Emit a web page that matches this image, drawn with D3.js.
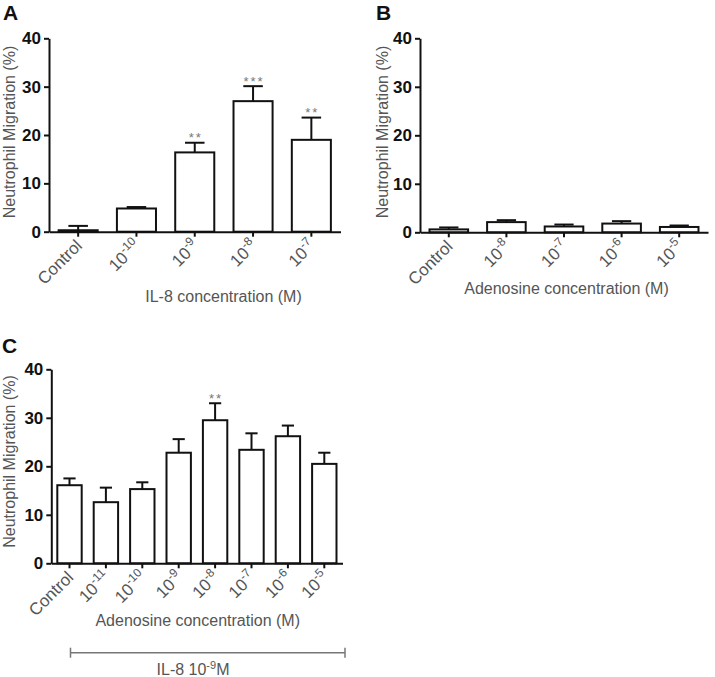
<!DOCTYPE html>
<html>
<head>
<meta charset="utf-8">
<script src="https://cdn.jsdelivr.net/npm/d3@7"></script>
<style>
  html, body { margin: 0; padding: 0; background: #fff; }
  svg { display: block; font-family: "Liberation Sans", Arial, Helvetica, sans-serif; }
</style>
</head>
<body>
<svg id="chart" width="715" height="677"></svg>
<script>
// ---------- DATA ----------
const yTicks = [0, 10, 20, 30, 40];

// Panel A: IL-8
const catsA = ["Control", "-10", "-9", "-8", "-7"];
const meanA = [0.3, 4.8, 16.4, 27.0, 19.0];
const semA  = [0.9, 0.3, 2.0, 3.1, 4.6];
const sigA  = ["", "", "**", "***", "**"];

// Panel B: Adenosine alone
const catsB = ["Control", "-8", "-7", "-6", "-5"];
const meanB = [0.6, 2.1, 1.2, 1.8, 1.1];
const semB  = [0.4, 0.4, 0.4, 0.5, 0.3];
const sigB  = ["", "", "", "", ""];

// Panel C: Adenosine + IL-8 1e-9 M
const catsC = ["Control", "-11", "-10", "-9", "-8", "-7", "-6", "-5"];
const meanC = [16.1, 12.6, 15.3, 22.8, 29.5, 23.4, 26.2, 20.5];
const semC  = [1.4, 3.0, 1.4, 2.8, 3.5, 3.4, 2.2, 2.3];
const sigC  = ["", "", "", "", "**", "", "", ""];

// ---------- DRAWING ----------
const svg = d3.select("#chart");
const grey = "#555";

function panel(opt) {
  const { cats, mean, sem, sig, x0, x1, y0, y1, letter, letterPos, title, titlePos, ylabPos } = opt;
  const g = svg.append("g");
  const x = d3.scaleBand().domain(cats).range([x0, x1]).paddingInner(0.33).paddingOuter(0.165);
  const y = d3.scaleLinear().domain([0, 40]).range([y0, y1]);

  const data = cats.map((c, i) => ({ c, m: mean[i], s: sem[i], sig: sig[i] }));
  g.selectAll("rect.bar").data(data).join("rect")
    .attr("class", "bar")
    .attr("x", d => x(d.c))
    .attr("y", d => y(d.m))
    .attr("width", x.bandwidth())
    .attr("height", d => y(0) - y(d.m))
    .attr("fill", "#fff").attr("stroke", "#111").attr("stroke-width", 2);

  const cw = x.bandwidth() / 2;
  g.selectAll("line.err").data(data).join("line")
    .attr("x1", d => x(d.c) + x.bandwidth() / 2).attr("x2", d => x(d.c) + x.bandwidth() / 2)
    .attr("y1", d => y(d.m)).attr("y2", d => y(d.m + d.s))
    .attr("stroke", "#111").attr("stroke-width", 2);
  g.selectAll("line.cap").data(data).join("line")
    .attr("x1", d => x(d.c) + x.bandwidth() / 2 - cw / 2).attr("x2", d => x(d.c) + x.bandwidth() / 2 + cw / 2)
    .attr("y1", d => y(d.m + d.s)).attr("y2", d => y(d.m + d.s))
    .attr("stroke", "#111").attr("stroke-width", 2);

  g.selectAll("text.sig").data(data.filter(d => d.sig)).join("text")
    .attr("x", d => x(d.c) + x.bandwidth() / 2 + 1)
    .attr("y", d => y(d.m + d.s) - 0.5)
    .attr("text-anchor", "middle")
    .attr("font-size", 13).attr("letter-spacing", 2)
    .attr("fill", "#777")
    .text(d => d.sig);

  const ya = g.append("g").attr("transform", `translate(${x0},0)`)
    .call(d3.axisLeft(y).tickValues(yTicks).tickSize(5).tickSizeOuter(0).tickPadding(3));
  ya.select(".domain").attr("stroke", "#111").attr("stroke-width", 2);
  ya.selectAll(".tick line").attr("stroke", "#111").attr("stroke-width", 2);
  ya.selectAll(".tick text").attr("font-size", 17).attr("font-weight", "bold")
    .attr("fill", "#111").attr("font-family", "Liberation Sans, Arial, sans-serif");

  const xa = g.append("g").attr("transform", `translate(0,${y0})`)
    .call(d3.axisBottom(x).tickSize(5).tickSizeOuter(0).tickFormat(""));
  xa.select(".domain").attr("stroke", "#111").attr("stroke-width", 2);
  xa.selectAll(".tick line").attr("stroke", "#111").attr("stroke-width", 2);

  cats.forEach(c => {
    const t = g.append("text")
      .attr("transform", `translate(${x(c) + x.bandwidth() / 2 + 5},${y0 + 15}) rotate(-45)`)
      .attr("text-anchor", "end")
      .attr("font-size", 17).attr("fill", grey);
    if (c === "Control") {
      t.text("Control");
    } else {
      t.append("tspan").text("10");
      t.append("tspan").attr("dy", -7).attr("font-size", 12).text(c);
    }
  });

  g.append("text").attr("x", titlePos[0]).attr("y", titlePos[1])
    .attr("text-anchor", "middle").attr("font-size", 16).attr("fill", grey).text(title);

  g.append("text")
    .attr("transform", `translate(${ylabPos[0]},${ylabPos[1]}) rotate(-90)`)
    .attr("text-anchor", "middle").attr("font-size", 16).attr("fill", grey)
    .text("Neutrophil Migration (%)");

  g.append("text").attr("x", letterPos[0]).attr("y", letterPos[1])
    .attr("font-size", 21).attr("font-weight", "bold").attr("fill", "#111").text(letter);
}

panel({ cats: catsA, mean: meanA, sem: semA, sig: sigA,
  x0: 49, x1: 340.5, y0: 231.7, y1: 38.3,
  letter: "A", letterPos: [3, 20],
  title: "IL-8 concentration (M)", titlePos: [223.5, 302], ylabPos: [15, 132] });

panel({ cats: catsB, mean: meanB, sem: semB, sig: sigB,
  x0: 420, x1: 708, y0: 232.3, y1: 38.3,
  letter: "B", letterPos: [376, 20],
  title: "Adenosine concentration (M)", titlePos: [566.5, 294], ylabPos: [388, 132] });

panel({ cats: catsC, mean: meanC, sem: semC, sig: sigC,
  x0: 51.3, x1: 342.5, y0: 563.3, y1: 369.3,
  letter: "C", letterPos: [2, 353],
  title: "Adenosine concentration (M)", titlePos: [197.7, 626], ylabPos: [15, 461.5] });

// bracket under panel C
const bx = d3.scaleLinear().domain([0, 1]).range([70.5, 345]);
const by = 652.7;
const br = svg.append("g").attr("stroke", "#777").attr("stroke-width", 1.5);
br.append("line").attr("x1", bx(0)).attr("x2", bx(1)).attr("y1", by).attr("y2", by);
br.append("line").attr("x1", bx(0)).attr("x2", bx(0)).attr("y1", by - 5).attr("y2", by + 5);
br.append("line").attr("x1", bx(1)).attr("x2", bx(1)).attr("y1", by - 5).attr("y2", by + 5);
const bt = svg.append("text").attr("x", 193).attr("y", 675)
  .attr("text-anchor", "middle").attr("font-size", 16).attr("fill", grey);
bt.append("tspan").text("IL-8 10");
bt.append("tspan").attr("dy", -6).attr("font-size", 11).text("-9");
bt.append("tspan").attr("dy", 6).text("M");
</script>
</body>
</html>
